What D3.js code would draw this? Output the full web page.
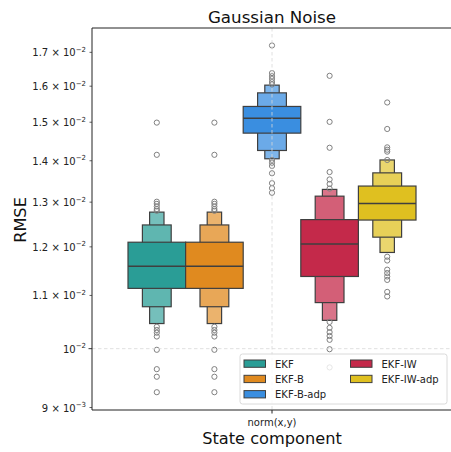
<!DOCTYPE html>
<html>
<head>
<meta charset="utf-8">
<script src="https://cdn.jsdelivr.net/npm/d3@7"></script>
<style>
  body { margin: 0; background: #fff; }
  svg { font-family: "DejaVu Sans", sans-serif; }
</style>
</head>
<body>
<div id="chart"></div>
<script>
// data (letter-value boxes: IQR level first, then outer levels)
const categories = ['norm(x,y)'];
const methods = ['EKF', 'EKF-B', 'EKF-B-adp', 'EKF-IW', 'EKF-IW-adp'];
const medians = [0.01159, 0.01159, 0.01511, 0.01206, 0.01297];
const levelsLow = [
    [0.01114, 0.01078, 0.01046],
    [0.01114, 0.01078, 0.01046],
    [0.01471, 0.01426, 0.01405],
    [0.01138, 0.01086, 0.01052],
    [0.01259, 0.01221, 0.01188]
];
const levelsHigh = [
    [0.01210, 0.01248, 0.01277],
    [0.01210, 0.01248, 0.01277],
    [0.01543, 0.01581, 0.01603],
    [0.01260, 0.01314, 0.01330],
    [0.01338, 0.01370, 0.01402]
];
const outliers = [
    [0.01499, 0.01415, 0.01301, 0.01296, 0.01290, 0.01284, 0.01280, 0.01040, 0.01034, 0.01029, 0.01022, 0.00998, 0.00964, 0.00951, 0.00925],
    [0.01499, 0.01415, 0.01301, 0.01296, 0.01290, 0.01284, 0.01280, 0.01040, 0.01034, 0.01029, 0.01022, 0.00998, 0.00964, 0.00951, 0.00925],
    [0.01721, 0.01638, 0.01629, 0.01621, 0.01612, 0.01605, 0.01402, 0.01395, 0.01387, 0.01369, 0.01345, 0.01333, 0.01322],
    [0.01630, 0.01501, 0.01433, 0.01372, 0.01354, 0.01343, 0.01332, 0.01049, 0.01038, 0.01030, 0.01023, 0.01016, 0.00999, 0.00967],
    [0.01554, 0.01482, 0.01434, 0.01428, 0.01423, 0.01402, 0.01179, 0.01171, 0.01152, 0.01145, 0.01138, 0.01131, 0.01107, 0.01098]
];
const yTicks = [0.009, 0.010, 0.011, 0.012, 0.013, 0.014, 0.015, 0.016, 0.017];
const yTickMant = ['9', '', '1.1', '1.2', '1.3', '1.4', '1.5', '1.6', '1.7'];
const yTickExp = ['−3', '−2', '−2', '−2', '−2', '−2', '−2', '−2', '−2'];

const palette = ['#2a9d96', '#e08a1f', '#3a8ee0', '#c4294a', '#dfc020'];
const edgeColor = '#3f3f3f';

const width = 451, height = 452;
const margin = { left: 92, right: -1, top: 28, bottom: 42 };
const plotRight = width - margin.right;
const plotBottom = height - margin.bottom;

const svg = d3.select('#chart').append('svg')
    .attr('width', width)
    .attr('height', height);

const x = d3.scaleBand()
    .domain(categories)
    .range([margin.left, plotRight])
    .paddingInner(0.2)
    .paddingOuter(0.1);

const xHue = d3.scaleBand()
    .domain(methods)
    .range([x(categories[0]), x(categories[0]) + x.bandwidth()]);

const y = d3.scaleLog()
    .domain([0.008960, 0.017757])
    .range([plotBottom, margin.top]);

function lighten(c, t) {
    return d3.interpolateRgb(c, '#fff')(t);
}
const levelWidth = [1, 0.5, 0.25];
const levelTint = [0, 0.25, 0.35];

// boxes
const boxes = svg.append('g');
methods.forEach((m, i) => {
    const cx = xHue(m) + xHue.bandwidth() / 2;
    const g = boxes.append('g');
    for (let k = levelWidth.length - 1; k >= 0; k--) {
        const w = xHue.bandwidth() * levelWidth[k];
        g.append('rect')
            .attr('x', cx - w / 2)
            .attr('y', y(levelsHigh[i][k]))
            .attr('width', w)
            .attr('height', y(levelsLow[i][k]) - y(levelsHigh[i][k]))
            .attr('fill', lighten(palette[i], levelTint[k]))
            .attr('stroke', edgeColor)
            .attr('stroke-width', 1.2);
    }
    g.append('line')
        .attr('x1', cx - xHue.bandwidth() / 2)
        .attr('x2', cx + xHue.bandwidth() / 2)
        .attr('y1', y(medians[i]))
        .attr('y2', y(medians[i]))
        .attr('stroke', edgeColor)
        .attr('stroke-width', 1.5);
    g.selectAll('circle')
        .data(outliers[i])
        .join('circle')
        .attr('cx', cx)
        .attr('cy', d => y(d))
        .attr('r', 2.6)
        .attr('fill', 'none')
        .attr('stroke', '#808080')
        .attr('stroke-width', 1);
});

// grid (drawn over patches, like matplotlib's default)
const grid = svg.append('g')
    .attr('stroke', '#d8d8d8')
    .attr('stroke-width', 0.8)
    .attr('stroke-dasharray', '3.5,2.5');
grid.append('line')
    .attr('x1', x(categories[0]) + x.bandwidth() / 2)
    .attr('x2', x(categories[0]) + x.bandwidth() / 2)
    .attr('y1', margin.top)
    .attr('y2', plotBottom);
grid.append('line')
    .attr('x1', margin.left)
    .attr('x2', plotRight)
    .attr('y1', y(0.01))
    .attr('y2', y(0.01));

// spines
svg.append('path')
    .attr('d', `M${plotRight},${margin.top}H${margin.left}V${plotBottom}H${plotRight}`)
    .attr('fill', 'none')
    .attr('stroke', '#222')
    .attr('stroke-width', 1);

// y ticks
const yt = svg.append('g');
yTicks.forEach((v, i) => {
    const py = y(v);
    const major = v === 0.010;
    yt.append('line')
        .attr('x1', margin.left - (major ? 3.5 : 2.5))
        .attr('x2', margin.left)
        .attr('y1', py).attr('y2', py)
        .attr('stroke', '#222')
        .attr('stroke-width', major ? 0.9 : 0.7);
    const t = yt.append('text')
        .attr('x', margin.left - 6)
        .attr('y', py + 4)
        .attr('text-anchor', 'end')
        .attr('font-size', 10)
        .attr('fill', '#222');
    const base = yTickMant[i] ? yTickMant[i] + ' × 10' : '10';
    t.append('tspan').text(base);
    t.append('tspan')
        .attr('dy', -4.5)
        .attr('font-size', 7)
        .text(yTickExp[i]);
});

// x tick
const xc = x(categories[0]) + x.bandwidth() / 2;
svg.append('line')
    .attr('x1', xc).attr('x2', xc)
    .attr('y1', plotBottom).attr('y2', plotBottom + 3.5)
    .attr('stroke', '#222');
svg.append('text')
    .attr('x', xc)
    .attr('y', plotBottom + 16)
    .attr('text-anchor', 'middle')
    .attr('font-size', 10)
    .attr('fill', '#222')
    .text(categories[0]);

// titles
svg.append('text')
    .attr('x', xc)
    .attr('y', 23)
    .attr('text-anchor', 'middle')
    .attr('font-size', 16.7)
    .attr('fill', '#111')
    .text('Gaussian Noise');
svg.append('text')
    .attr('x', xc)
    .attr('y', 443.5)
    .attr('text-anchor', 'middle')
    .attr('font-size', 16.2)
    .attr('fill', '#111')
    .text('State component');
svg.append('text')
    .attr('transform', `translate(25.5,${(margin.top + plotBottom) / 2 + 1}) rotate(-90)`)
    .attr('text-anchor', 'middle')
    .attr('font-size', 16.2)
    .attr('fill', '#111')
    .text('RMSE');

// legend
const legend = svg.append('g').attr('transform', 'translate(240,354)');
legend.append('rect')
    .attr('width', 207)
    .attr('height', 50)
    .attr('rx', 2.5)
    .attr('fill', '#fff')
    .attr('fill-opacity', 0.8)
    .attr('stroke', '#d0d0d0')
    .attr('stroke-width', 0.8);
methods.forEach((m, i) => {
    const col = i < 3 ? 0 : 1;
    const row = i < 3 ? i : i - 3;
    const g = legend.append('g')
        .attr('transform', `translate(${4 + col * 106.5},${6 + row * 15.3})`);
    g.append('rect')
        .attr('width', 21.5)
        .attr('height', 7.3)
        .attr('fill', palette[i])
        .attr('stroke', edgeColor)
        .attr('stroke-width', 1);
    g.append('text')
        .attr('x', 31)
        .attr('y', 7.5)
        .attr('font-size', 10)
        .attr('fill', '#222')
        .text(m);
});
</script>
</body>
</html>
